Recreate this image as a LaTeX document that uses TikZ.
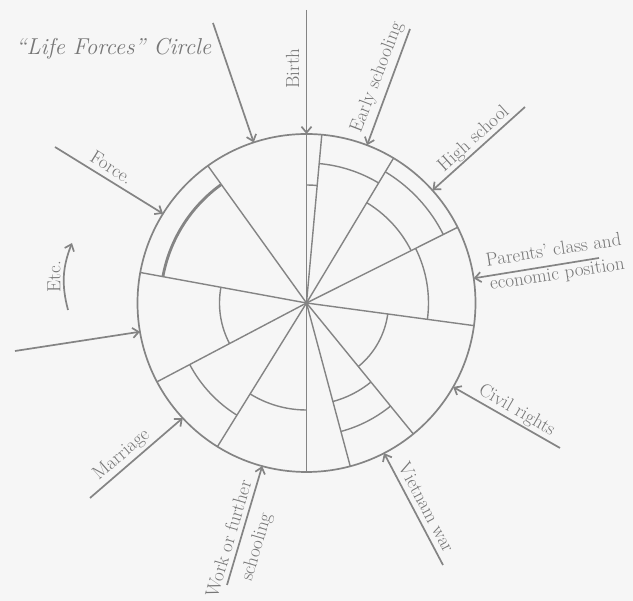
\documentclass[tikz,border=0pt]{standalone}
\usepackage{fontspec}
\usetikzlibrary{arrows.meta}
\definecolor{linecol}{RGB}{132,132,132}
\definecolor{txtcol}{RGB}{118,118,118}
\definecolor{bgcol}{RGB}{246,246,246}
\begin{document}
\begin{tikzpicture}[x=1pt,y=1pt,
  ring/.style={draw=linecol, line width=1.7pt},
  spoke/.style={draw=linecol, line width=1.4pt},
  band/.style={draw=linecol, line width=1.4pt},
  thickband/.style={draw=linecol, line width=2.8pt},
  force/.style={draw=linecol, line width=1.7pt, -{Straight Barb[length=6pt,width=10pt,line width=1.7pt]}},
  lbl/.style={text=txtcol, font=\fontsize{19}{22}\selectfont, inner sep=0pt},
]
\fill[bgcol] (-306.5,-298) rectangle (326.5,303);
\useasboundingbox (-306.5,-298) rectangle (326.5,303);
\def\R{169}
\coordinate (C) at (0,0);
% circle and spokes
\draw[ring] (C) circle[radius=\R];
\foreach \a in {90,84.8,59,26.6,-7.7,-50.8,-75,-90,-121.8,-152.2,169.6,125.7}
  \draw[spoke] (C) -- (\a:\R);
% inner arcs
\draw[band] (84.8:118) arc[start angle=84.8,end angle=90,radius=118];
\draw[band] (59:140) arc[start angle=59,end angle=84.8,radius=140];
\draw[band] (26.6:117) arc[start angle=26.6,end angle=59,radius=117];
\draw[band] (26.6:153) arc[start angle=26.6,end angle=59,radius=153];
\draw[band] (-7.7:122) arc[start angle=-7.7,end angle=26.6,radius=122];
\draw[band] (-50.8:82) arc[start angle=-50.8,end angle=-7.7,radius=82];
\draw[band] (-75:102) arc[start angle=-75,end angle=-50.8,radius=102];
\draw[band] (-75:133) arc[start angle=-75,end angle=-50.8,radius=133];
\draw[band] (-121.8:107) arc[start angle=-121.8,end angle=-90,radius=107];
\draw[band] (-152.2:132) arc[start angle=-152.2,end angle=-121.8,radius=132];
\draw[band] (169.6:87) arc[start angle=169.6,end angle=207.8,radius=87];
\draw[thickband] (125.7:146) arc[start angle=125.7,end angle=169.6,radius=146];
% arrow tips and tails
\coordinate (tipLife) at (108.2:\R);   \coordinate (tailLife) at (-93.5,280);
\coordinate (tipBirth) at (90:\R);     \coordinate (tailBirth) at (0,293);
\coordinate (tipEarly) at (69:\R);     \coordinate (tailEarly) at (103.5,274);
\coordinate (tipHigh) at (41.8:\R);    \coordinate (tailHigh) at (218.5,196);
\coordinate (tipPar) at (8.4:\R);      \coordinate (tailPar) at (292.5,45);
\coordinate (tipCivil) at (-29.8:\R);  \coordinate (tailCivil) at (253.5,-145);
\coordinate (tipViet) at (-62.7:\R);   \coordinate (tailViet) at (136.5,-262);
\coordinate (tipWork) at (-105.2:\R);  \coordinate (tailWork) at (-79.5,-282);
\coordinate (tipMar) at (222.9:\R);    \coordinate (tailMar) at (-216.5,-195);
\coordinate (tipUn) at (189.8:\R);     \coordinate (tailUn) at (-291.5,-48);
\coordinate (tipForce) at (148.1:\R);  \coordinate (tailForce) at (-251.5,156);
\foreach \n in {Life,Birth,Early,High,Par,Civil,Viet,Work,Mar,Un,Force}
  \draw[force] (tail\n) -- (tip\n);
% Etc. curved arrow
\coordinate (etcA) at (-238.5,-7);
\coordinate (etcB) at (-234.5,60);
\draw[force] (etcA) to[bend left=18] (etcB);
% labels
\node[lbl, font=\fontsize{23}{27}\selectfont\itshape] (lTitle) at (-193,254) {“Life Forces” Circle};
\node[lbl, rotate=90] (lBirth) at (-14,234.5) {Birth};
\node[lbl, rotate=69] (lEarly) at (70.8,225.7) {Early schooling};
\node[lbl, rotate=42] (lHigh) at (167.5,164) {High school};
\node[lbl, rotate=8.7, align=center, font=\fontsize{19}{24}\selectfont] (lPar) at (249,40) {Parents’ class and\\economic position};
\node[lbl, rotate=-30] (lCivil) at (210.2,-107.7) {Civil rights};
\node[lbl, rotate=-62] (lViet) at (120.2,-204.3) {Vietnam war};
\node[lbl, rotate=73.5, align=center, font=\fontsize{19}{28}\selectfont] (lWork) at (-63,-240) {Work or further\\schooling};
\node[lbl, rotate=41] (lMar) at (-184.8,-152) {Marriage};
\node[lbl, rotate=-32] (lForce) at (-194.8,135.7) {Force.};
\node[lbl, rotate=90] (lEtc) at (-252.5,26.3) {Etc.};
\end{tikzpicture}
\end{document}
